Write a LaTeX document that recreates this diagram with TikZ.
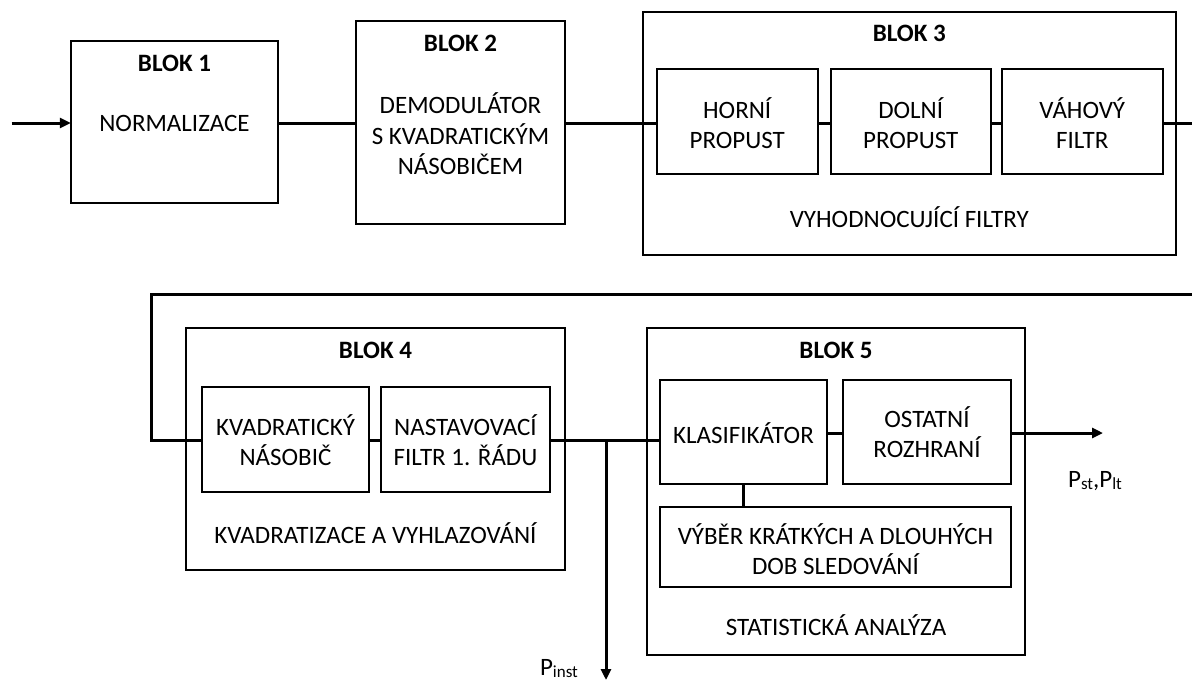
\documentclass[tikz,border=0pt]{standalone}
\usepackage{fontspec}
\setmainfont{Carlito}
\usetikzlibrary{arrows.meta}
\newcommand{\mysub}[1]{\raisebox{-2.5pt}{\fontsize{17pt}{17pt}\selectfont #1}}
\begin{document}
\begin{tikzpicture}[x=1pt,y=-1pt,
  box/.style={draw, line width=2pt, inner sep=0pt, outer sep=0pt, rectangle},
  conn/.style={line width=3pt},
  arr/.style={conn, -{Triangle[length=11pt,width=10pt]}},
  txt/.style={font=\fontsize{25pt}{30.5pt}\selectfont, align=center, inner sep=0pt},
  ttl/.style={font=\fontsize{25pt}{30.5pt}\selectfont\bfseries, inner sep=0pt},
]
\useasboundingbox (0,0) rectangle (1192,681);

% outer blocks
\node[box, minimum width=207.4pt, minimum height=162pt] (b1) at (174.5,122) {};
\node[box, minimum width=209.3pt, minimum height=203pt] (b2) at (460.5,122.5) {};
\node[box, minimum width=533.3pt, minimum height=243pt] (b3) at (909.3,133.5) {};
\node[box, minimum width=379pt, minimum height=242pt] (b4) at (375.5,449) {};
\node[box, minimum width=378pt, minimum height=327pt] (b5) at (836,491.5) {};

% inner boxes
\node[box, minimum width=161.2pt, minimum height=105pt] (hp) at (737.2,121.5) {};
\node[box, minimum width=160.1pt, minimum height=105pt] (dp) at (910.7,121.5) {};
\node[box, minimum width=160.7pt, minimum height=105pt] (vf) at (1082.3,121.5) {};
\node[box, minimum width=167pt, minimum height=105pt] (kn) at (285.5,439.5) {};
\node[box, minimum width=169pt, minimum height=105pt] (nf) at (465.5,439.5) {};
\node[box, minimum width=167pt, minimum height=104pt] (kl) at (743.5,432) {};
\node[box, minimum width=168pt, minimum height=104pt] (or) at (927,432) {};
\node[box, minimum width=351pt, minimum height=80pt] (vb) at (835.5,547) {};

% titles
\node[ttl] (t1) at (174.5,63) {BLOK 1};
\node[ttl] (t2) at (460.5,43) {BLOK 2};
\node[ttl] (t3) at (909.3,33) {BLOK 3};
\node[ttl] (t4) at (375.5,350) {BLOK 4};
\node[ttl] (t5) at (836,350) {BLOK 5};

% texts
\node[txt] (l1) at (174.5,123) {NORMALIZACE};
\node[txt] (l2) at (460.5,134) {DEMODULÁTOR\\S KVADRATICKÝM\\NÁSOBIČEM};
\node[txt] (lhp) at (737.2,123) {HORNÍ\\PROPUST};
\node[txt] (ldp) at (910.7,123) {DOLNÍ\\PROPUST};
\node[txt] (lvf) at (1082.3,123) {VÁHOVÝ\\FILTR};
\node[txt] (l3) at (909.3,217) {VYHODNOCUJÍCÍ FILTRY};
\node[txt] (lkn) at (285.5,440) {KVADRATICKÝ\\NÁSOBIČ};
\node[txt] (lnf) at (465.5,440) {NASTAVOVACÍ\\FILTR 1. ŘÁDU};
\node[txt] (l4) at (375.5,533) {KVADRATIZACE A VYHLAZOVÁNÍ};
\node[txt] (lkl) at (743.5,433) {KLASIFIKÁTOR};
\node[txt] (lor) at (927,432) {OSTATNÍ\\ROZHRANÍ};
\node[txt] (lvb) at (835.5,549) {VÝBĚR KRÁTKÝCH A DLOUHÝCH\\DOB SLEDOVÁNÍ};
\node[txt] (l5) at (836,625) {STATISTICKÁ ANALÝZA};
\node[txt, anchor=base] (pout) at (1095,487) {P\mysub{st},P\mysub{lt}};
\node[txt, anchor=base] (pinst) at (559,675) {P\mysub{inst}};

% coordinates
\coordinate (in) at (11.5,123);
\coordinate (r1) at (1192,123);
\coordinate (r2) at (1192,294);
\coordinate (c1) at (151,294);
\coordinate (c2) at (151,440);
\coordinate (br) at (606,440);
\coordinate (pend) at (606,680);
\coordinate (oend) at (1103,433);

% connectors
\draw[arr] (in) -- (b1.west |- in);
\draw[conn] (b1.east |- in) -- (b2.west |- in);
\draw[conn] (b2.east |- in) -- (hp.west |- in);
\draw[conn] (hp.east |- in) -- (dp.west |- in);
\draw[conn] (dp.east |- in) -- (vf.west |- in);
\draw[conn] (vf.east |- in) -- (r1);
\draw[conn] (r2) -- (c1) -- (c2) -- (kn.west |- c2);
\draw[conn] (kn.east |- c2) -- (nf.west |- c2);
\draw[conn] (nf.east |- c2) -- (kl.west |- c2);
\draw[arr] (br) -- (pend);
\draw[conn] (kl.east |- oend) -- (or.west |- oend);
\draw[arr] (or.east |- oend) -- (oend);
\draw[conn] (kl.south) -- (vb.north -| kl.south);
\end{tikzpicture}
\end{document}
